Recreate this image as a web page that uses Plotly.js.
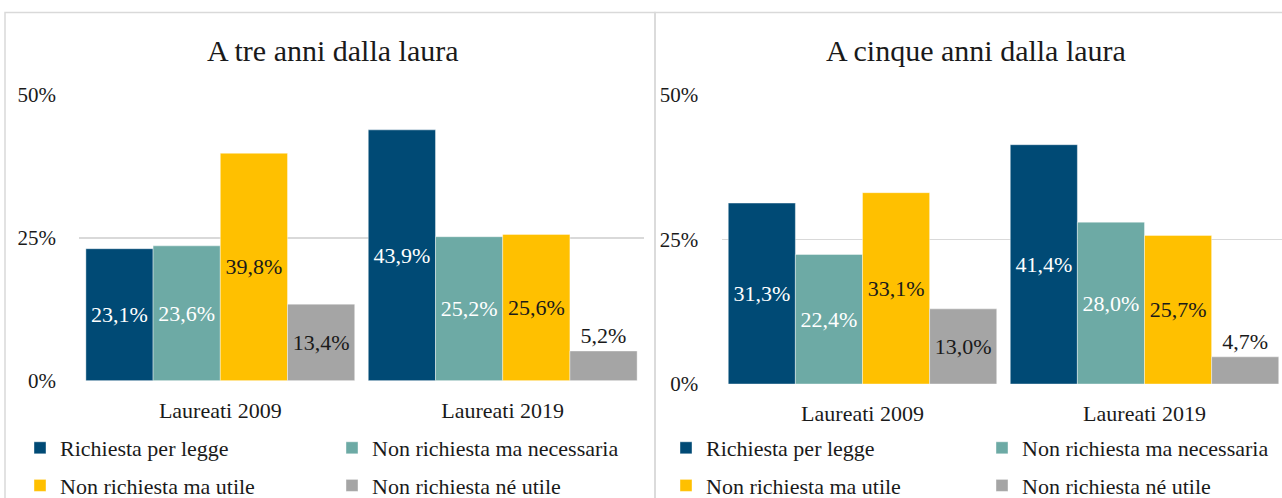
<!DOCTYPE html>
<html>
<head>
<meta charset="utf-8">
<script src="https://cdn.plot.ly/plotly-3.0.1.min.js"></script>
<style>
html,body{margin:0;padding:0;background:#fff;}
#chart{width:1282px;height:498px;}
</style>
</head>
<body>
<div id="chart"></div>
<script>
// ---- data ----
const categories = ['Laureati 2009', 'Laureati 2019'];
const seriesNames = ['Richiesta per legge', 'Non richiesta ma necessaria', 'Non richiesta ma utile', 'Non richiesta né utile'];
const treAnni_richiestaLegge = [23.1, 43.9];
const treAnni_necessaria = [23.6, 25.2];
const treAnni_utile = [39.8, 25.6];
const treAnni_neUtile = [13.4, 5.2];
const cinqueAnni_richiestaLegge = [31.3, 41.4];
const cinqueAnni_necessaria = [22.4, 28.0];
const cinqueAnni_utile = [33.1, 25.7];
const cinqueAnni_neUtile = [13.0, 4.7];
const panelTitles = ['A tre anni dalla laura', 'A cinque anni dalla laura'];
const yTickVals = [0, 25, 50];
const yTickText = ['0%', '25%', '50%'];

// ---- styles ----
const colors = ['#004A75', '#6DAAA5', '#FFC000', '#A5A5A5'];
const labelColors = ['#ffffff', '#ffffff', '#1a1a1a', '#1a1a1a'];
const FONT = '"Liberation Serif", "DejaVu Serif", "Times New Roman", serif';
const W = 1282, H = 498;
const px = v => v / W;
const py = v => 1 - v / H;

const leftSeries = [treAnni_richiestaLegge, treAnni_necessaria, treAnni_utile, treAnni_neUtile];
const rightSeries = [cinqueAnni_richiestaLegge, cinqueAnni_necessaria, cinqueAnni_utile, cinqueAnni_neUtile];
// legend assignment: column 1 = series 0,2 ; column 2 = series 1,3
const leftLegends = ['legend', 'legend2', 'legend', 'legend2'];
const rightLegends = ['legend3', 'legend4', 'legend3', 'legend4'];

function makeTrace(vals, i, xa, ya, legendId, grp) {
  return {
    type: 'bar',
    x: categories,
    y: vals,
    name: seriesNames[i],
    xaxis: xa, yaxis: ya,
    legend: legendId,
    legendgroup: grp + i,
    marker: {color: colors[i], line: {color: 'rgba(255,255,255,0.5)', width: 0.8}},
    texttemplate: '%{y:.1f}%',
    textposition: vals.map(v => v < 8 ? 'outside' : 'inside'),
    insidetextanchor: 'middle',
    constraintext: 'none',
    cliponaxis: false,
    textfont: {family: FONT, size: 22, color: vals.map(v => v < 8 ? '#1a1a1a' : labelColors[i])},
    hoverinfo: 'x+y+name'
  };
}

const data = [];
leftSeries.forEach((s, i) => data.push(makeTrace(s, i, 'x', 'y', leftLegends[i], 'L')));
rightSeries.forEach((s, i) => data.push(makeTrace(s, i, 'x2', 'y2', rightLegends[i], 'R')));

const xCommon = {
  type: 'category',
  showgrid: false, zeroline: false, showline: false,
  ticks: 'outside', ticklen: 10, tickcolor: 'rgba(0,0,0,0)',
  tickfont: {family: FONT, size: 22, color: '#1a1a1a'},
  fixedrange: true
};
const yCommon = {
  range: [0, 50],
  tickmode: 'array',
  tickvals: yTickVals,
  ticktext: yTickText,
  showgrid: true, gridcolor: '#d9d9d9', gridwidth: 1.6,
  zeroline: false, showline: false,
  ticks: 'outside', ticklen: 18, tickcolor: 'rgba(0,0,0,0)',
  tickfont: {family: FONT, size: 21, color: '#1a1a1a'},
  fixedrange: true
};

const legendCommon = {
  orientation: 'v',
  xanchor: 'left', yanchor: 'top',
  y: py(427),
  font: {family: FONT, size: 22, color: '#1a1a1a'},
  tracegroupgap: 6,
  bgcolor: 'rgba(0,0,0,0)',
  borderwidth: 0,
  itemclick: false, itemdoubleclick: false
};

const layout = {
  width: W, height: H,
  margin: {l: 0, r: 0, t: 0, b: 0, pad: 0, autoexpand: false},
  paper_bgcolor: '#ffffff',
  plot_bgcolor: 'rgba(0,0,0,0)',
  separators: ',.',
  barmode: 'group',
  bargap: 0.048,
  bargroupgap: 0,
  font: {family: FONT, color: '#1a1a1a'},
  xaxis: Object.assign({}, xCommon, {domain: [px(79.1), px(643.9)], anchor: 'y', range: [-0.5, 1.5]}),
  yaxis: Object.assign({}, yCommon, {domain: [py(380.7), py(95)], anchor: 'x'}),
  xaxis2: Object.assign({}, xCommon, {domain: [px(721.5), 1], anchor: 'y2', range: [-0.5, 1.4876]}),
  yaxis2: Object.assign({}, yCommon, {domain: [py(384), py(95)], anchor: 'x2'}),
  legend: Object.assign({}, legendCommon, {x: px(20)}),
  legend2: Object.assign({}, legendCommon, {x: px(332)}),
  legend3: Object.assign({}, legendCommon, {x: px(666)}),
  legend4: Object.assign({}, legendCommon, {x: px(982)}),
  annotations: [
    {text: panelTitles[0], xref: 'paper', yref: 'paper', x: px(333), y: py(50), xanchor: 'center', yanchor: 'middle',
     showarrow: false, font: {family: FONT, size: 30, color: '#1a1a1a'}},
    {text: panelTitles[1], xref: 'paper', yref: 'paper', x: px(976), y: py(50), xanchor: 'center', yanchor: 'middle',
     showarrow: false, font: {family: FONT, size: 30, color: '#1a1a1a'}}
  ],
  shapes: [
    {type: 'rect', xref: 'paper', yref: 'paper', x0: px(5), x1: px(655), y0: -0.2, y1: py(12.5),
     line: {color: '#d9d9d9', width: 1.5}, fillcolor: 'rgba(0,0,0,0)', layer: 'below'},
    {type: 'rect', xref: 'paper', yref: 'paper', x0: px(655), x1: 1.05, y0: -0.2, y1: py(12.5),
     line: {color: '#d9d9d9', width: 1.5}, fillcolor: 'rgba(0,0,0,0)', layer: 'below'}
  ],
  showlegend: true
};

Plotly.newPlot('chart', data, layout, {displayModeBar: false, staticPlot: true});
</script>
</body>
</html>
